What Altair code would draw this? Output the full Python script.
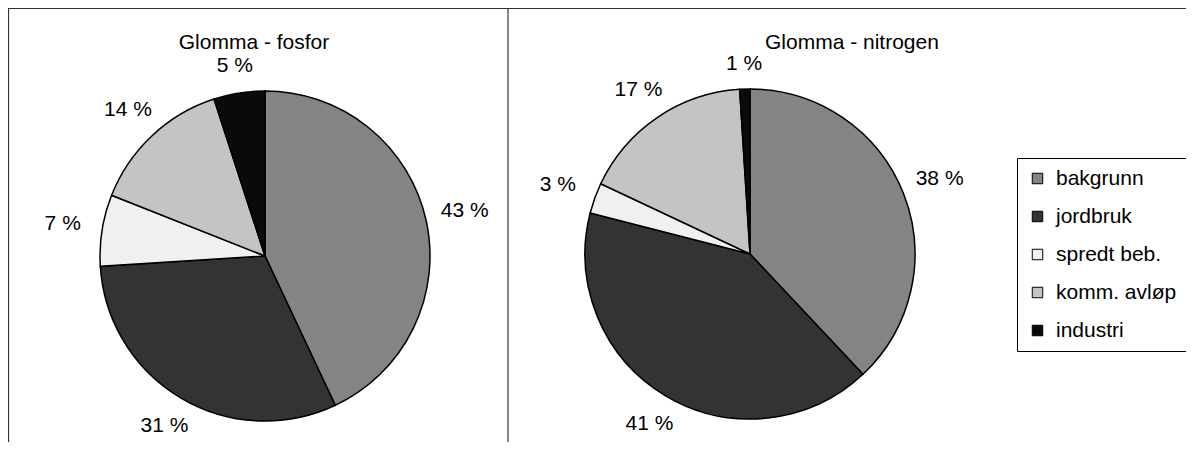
import altair as alt
import pandas as pd

categories = ["bakgrunn", "jordbruk", "spredt beb.", "komm. avløp", "industri"]
fosfor = [43, 31, 7, 14, 5]
nitrogen = [38, 41, 3, 17, 1]
colors = ["#848484", "#333333", "#f0f0f0", "#c4c4c4", "#0a0a0a"]
titles = ["Glomma - fosfor", "Glomma - nitrogen"]

rows = []
for pie, vals in (("fosfor", fosfor), ("nitrogen", nitrogen)):
    for i, (c, v) in enumerate(zip(categories, vals)):
        rows.append({"pie": pie, "kategori": c, "verdi": v, "idx": i, "label": f"{v} %"})
df = pd.DataFrame(rows)

FONT = "Liberation Sans"
FS = 21
R = 165

color = alt.Color(
    "kategori:N",
    scale=alt.Scale(domain=categories, range=colors),
    legend=alt.Legend(
        title=None, orient="none", legendX=1009, legendY=150,
        strokeColor="black", fillColor="white", padding=10,
        symbolType="square", symbolSize=110, symbolStrokeColor="black",
        symbolStrokeWidth=1, labelFont=FONT, labelFontSize=FS,
        labelColor="black", rowPadding=16, labelOffset=8,
        labelLimit=200, symbolOpacity=1,
    ),
)


def pie_layers(name, cx, cy):
    base = alt.Chart(df).transform_filter(alt.datum.pie == name)
    arc = base.mark_arc(radius=R, stroke="black", strokeWidth=1.5).encode(
        theta=alt.Theta("verdi:Q", stack=True),
        color=color,
        order=alt.Order("idx:Q"),
        x=alt.value(cx), y=alt.value(cy),
    )
    txt = base.transform_window(
        cum="sum(verdi)", sort=[alt.SortField("idx")], frame=[None, 0]
    ).transform_calculate(
        mid="(datum.cum - datum.verdi / 2) / 100 * 2 * PI"
    ).transform_calculate(
        lr="190 + 15 * abs(sin(datum.mid))"
    ).mark_text(font=FONT, fontSize=FS, color="black").encode(
        theta=alt.Theta("mid:Q", scale=None),
        radius=alt.Radius("lr:Q", scale=None),
        text="label:N",
        x=alt.value(cx), y=alt.value(cy),
    )
    return [arc, txt]


line = lambda x1, x2, y1, y2: alt.Chart(df.head(1)).mark_rule(color="#333", strokeWidth=1.2).encode(
    x=alt.value(x1), x2=alt.value(x2), y=alt.value(y1), y2=alt.value(y2)
)

borders = [
    line(0.5, 1178, 0.5, 0.5),
    line(0.5, 0.5, 0, 440),
    line(0, 500, 440, 440),
    line(500, 500, 0, 440),
]

title_df = pd.DataFrame({"t": titles})
t1 = alt.Chart(title_df.iloc[[0]]).mark_text(font=FONT, fontSize=FS, color="black").encode(
    text="t:N", x=alt.value(246), y=alt.value(35))
t2 = alt.Chart(title_df.iloc[[1]]).mark_text(font=FONT, fontSize=FS, color="black", align="left").encode(
    text="t:N", x=alt.value(757), y=alt.value(35))

chart = alt.layer(
    *borders,
    *pie_layers("fosfor", 257, 248),
    *pie_layers("nitrogen", 742, 246),
    t1, t2,
).properties(
    width=1178, height=434,
    autosize=alt.AutoSizeParams(type="none"), padding=0,
).configure_view(stroke=None)

chart.save("out.html", embed_options={"renderer": "svg", "actions": False})
